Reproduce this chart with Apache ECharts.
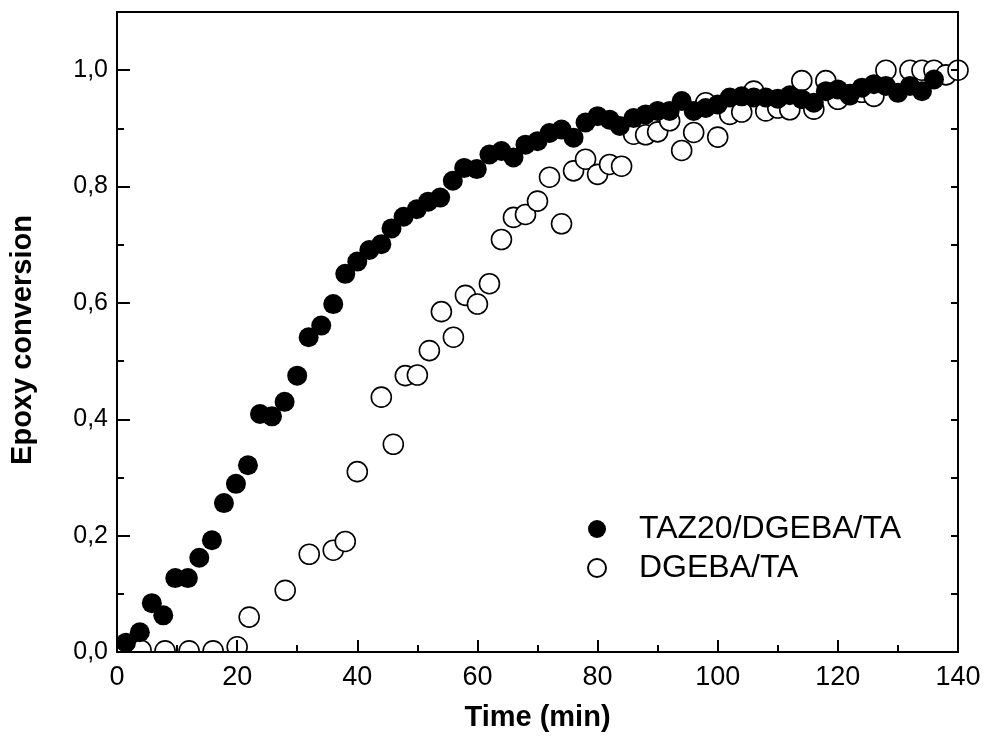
<!DOCTYPE html>
<html>
<head>
<meta charset="utf-8">
<script src="https://cdn.jsdelivr.net/npm/echarts@6/dist/echarts.min.js"></script>
<style>
html,body{margin:0;padding:0;background:#fff;}
#chart{width:987px;height:749px;}
</style>
</head>
<body>
<div id="chart"></div>
<script>
// ---- data ----
const seriesNames = ['TAZ20/DGEBA/TA', 'DGEBA/TA'];

const tazTime = [1.5, 3.8, 5.8, 7.7, 9.7, 11.8, 13.7, 15.8, 17.8, 19.8, 21.8, 23.8, 25.8, 27.9, 30, 31.9, 34, 36, 38, 40,
  42, 44, 45.7, 47.7, 49.9, 51.8, 53.8, 55.9, 57.8, 59.9, 62, 64, 66, 68, 70, 72, 74, 76, 78, 80,
  82, 83.7, 86, 88, 90, 92, 94, 96, 98, 100, 102, 104, 106, 108, 110, 112, 114, 116, 118, 120,
  122, 124, 126, 128, 130, 132, 134, 136];
const tazConv = [0.016, 0.034, 0.084, 0.063, 0.127, 0.127, 0.162, 0.192, 0.256, 0.289, 0.321, 0.409, 0.405, 0.43, 0.475, 0.541, 0.561, 0.598, 0.65, 0.671,
  0.691, 0.701, 0.728, 0.748, 0.761, 0.774, 0.781, 0.81, 0.832, 0.83, 0.855, 0.861, 0.85, 0.872, 0.878, 0.892, 0.898, 0.884, 0.91, 0.921,
  0.915, 0.904, 0.918, 0.924, 0.93, 0.93, 0.947, 0.93, 0.935, 0.941, 0.953, 0.955, 0.953, 0.953, 0.951, 0.957, 0.95, 0.944, 0.964, 0.967,
  0.958, 0.97, 0.976, 0.973, 0.961, 0.973, 0.964, 0.984];

const dgebaTime = [4, 8, 12, 16, 20, 22, 28, 32, 36, 38, 40, 44, 46, 48, 50, 52, 54, 56, 58, 60,
  62, 64, 66, 68, 70, 72, 74, 76, 78, 80, 82, 84, 86, 88, 90, 92, 94, 96, 98, 100,
  102, 104, 106, 108, 110, 112, 114, 116, 118, 120, 122, 124, 126, 128, 132, 134, 136, 138, 140];
const dgebaConv = [0.003, 0.002, 0.002, 0.002, 0.009, 0.06, 0.106, 0.168, 0.175, 0.19, 0.31, 0.438, 0.357, 0.475, 0.476, 0.518, 0.585, 0.541, 0.613, 0.598,
  0.633, 0.709, 0.747, 0.752, 0.775, 0.816, 0.736, 0.827, 0.847, 0.821, 0.838, 0.835, 0.89, 0.889, 0.894, 0.913, 0.862, 0.893, 0.944, 0.885,
  0.924, 0.928, 0.964, 0.93, 0.935, 0.932, 0.982, 0.933, 0.982, 0.95, 0.958, 0.962, 0.955, 1.0, 1.0, 1.0, 1.0, 0.992, 1.0];

const xTicks = [0, 20, 40, 60, 80, 100, 120, 140];
const yTicks = [0, 0.2, 0.4, 0.6, 0.8, 1.0];

// ---- chart ----
const zip = (a, b) => a.map((v, i) => [v, b[i]]);
const chart = echarts.init(document.getElementById('chart'), null, {renderer: 'canvas'});

const txtFont = "'Liberation Sans', Arial, sans-serif";
const lineStyle = {color: '#000', width: 2};

const option = {
  backgroundColor: '#fff',
  animation: false,
  grid: {left: 117, right: 29, top: 12, bottom: 97, containLabel: false},
  legend: {
    orient: 'vertical',
    left: 582, top: 508,
    itemWidth: 74, itemHeight: 18,
    itemGap: 7,
    data: seriesNames,
    textStyle: {fontFamily: txtFont, fontSize: 32, color: '#000'}
  },
  // white strip just below the plot frame so markers are cut at the axis, as in the original
  graphic: [{
    type: 'rect', z: 50, silent: true,
    shape: {x: 100, y: 653, width: 870, height: 10},
    style: {fill: '#fff'}
  }, {
    type: 'rect', z: 50, silent: true,
    shape: {x: 100, y: 560, width: 16, height: 100},
    style: {fill: '#fff'}
  }],
  xAxis: [
    {
      type: 'value', position: 'bottom', min: xTicks[0], max: xTicks[xTicks.length - 1], interval: 20,
      name: 'Time (min)', nameLocation: 'middle', nameGap: 51, z: 60,
      nameTextStyle: {fontFamily: txtFont, fontWeight: 'bold', fontSize: 29, color: '#000'},
      axisLine: {show: true, onZero: false, lineStyle},
      axisTick: {show: true, inside: true, length: 12, lineStyle},
      minorTick: {show: true, splitNumber: 2, length: 7, lineStyle: {color: '#000', width: 2}},
      axisLabel: {show: true, margin: 12, fontFamily: txtFont, fontSize: 27, color: '#000'},
      splitLine: {show: false}
    },
    {
      type: 'value', position: 'top', min: 0, max: 140, interval: 20, z: 60,
      axisLine: {show: true, onZero: false, lineStyle},
      axisTick: {show: false}, axisLabel: {show: false}, splitLine: {show: false}
    }
  ],
  yAxis: [
    {
      type: 'value', position: 'left', min: 0, max: 1.1, interval: 0.2, z: 60,
      name: 'Epoxy conversion', nameLocation: 'middle', nameGap: 80, nameRotate: 90,
      nameTextStyle: {fontFamily: txtFont, fontWeight: 'bold', fontSize: 29, color: '#000', padding: [0, 16, 0, 0]},
      axisLine: {show: true, onZero: false, lineStyle},
      axisTick: {show: true, inside: true, length: 13, lineStyle},
      axisLabel: {
        show: true, margin: 9, fontFamily: txtFont, fontSize: 25, color: '#000',
        formatter: v => (yTicks.some(t => Math.abs(t - v) < 1e-6) ? v.toFixed(1).replace('.', ',') : '')
      },
      splitLine: {show: false}
    },
    {
      type: 'value', position: 'left', min: 0, max: 1.1, interval: 0.1, z: 60,
      axisLine: {show: false},
      axisTick: {show: true, inside: true, length: 7, lineStyle},
      axisLabel: {show: false}, splitLine: {show: false}
    },
    {
      type: 'value', position: 'right', min: 0, max: 1.1, interval: 0.1, z: 60,
      axisLine: {show: true, onZero: false, lineStyle},
      axisTick: {show: true, inside: true, length: 7, lineStyle},
      axisLabel: {show: false}, splitLine: {show: false}
    }
  ],
  series: [
    {
      name: seriesNames[1], type: 'scatter', xAxisIndex: 0, yAxisIndex: 0,
      data: zip(dgebaTime, dgebaConv),
      symbol: 'circle', symbolSize: 20, z: 2,
      itemStyle: {color: '#fff', borderColor: '#000', borderWidth: 1.6, opacity: 1}
    },
    {
      name: seriesNames[0], type: 'scatter', xAxisIndex: 0, yAxisIndex: 0,
      data: zip(tazTime, tazConv),
      symbol: 'circle', symbolSize: 20, z: 3,
      itemStyle: {color: '#000', borderColor: '#000', borderWidth: 0, opacity: 1}
    }
  ]
};
chart.setOption(option);
</script>
</body>
</html>
